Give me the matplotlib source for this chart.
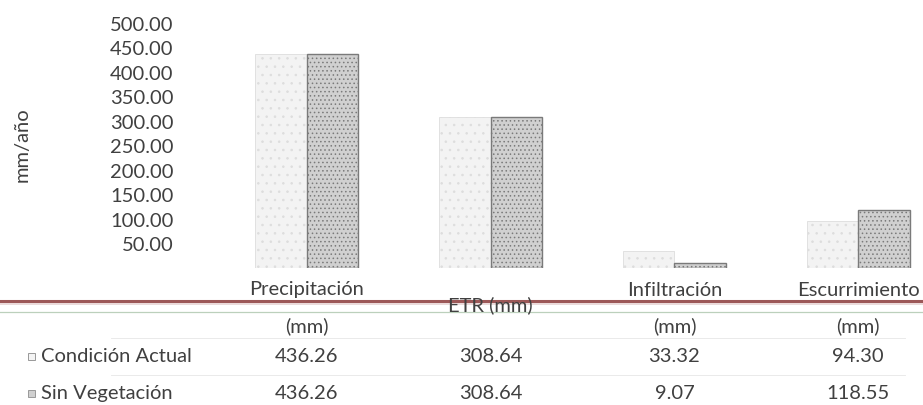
import numpy as np
import matplotlib
matplotlib.use('Agg')
import matplotlib.pyplot as plt
from matplotlib.patches import Rectangle
from matplotlib.lines import Line2D

categories = ['Precipitación\n(mm)', 'ETR (mm)', 'Infiltración\n(mm)', 'Escurrimiento\n(mm)']
series_names = ['Condición Actual', 'Sin Vegetación']
condicion_actual = [436.26, 308.64, 33.32, 94.30]
sin_vegetacion = [436.26, 308.64, 9.07, 118.55]
y_ticks = [50, 100, 150, 200, 250, 300, 350, 400, 450, 500]

plt.rcParams['font.family'] = ['Lato', 'DejaVu Sans']
plt.rcParams['hatch.linewidth'] = 0.6
TXT = '#404040'
FS = 14.5

W, H = 923, 406
fig = plt.figure(figsize=(W / 100, H / 100), dpi=100)

def fy(ypix):
    # reference pixel row -> figure fraction
    return 1 - ypix / H

# plot area in pixel coords of the reference
ax_left, ax_top, ax_bottom = 215, 24, 268.5
ax = fig.add_axes([ax_left / W, fy(ax_bottom), 1 - ax_left / W, (ax_bottom - ax_top) / H])

x = np.arange(len(categories))
bw = 0.28
ax.bar(x - bw / 2, condicion_actual, bw, color='#f3f3f3', edgecolor='#dddddd',
       hatch='..', linewidth=0.6)
ax.bar(x + bw / 2, sin_vegetacion, bw, color='#d0d0d0', edgecolor='#7a7a7a',
       hatch='....', linewidth=1.0)

ax.set_xlim(-0.5, (W - 307) / 183.7)
ax.set_ylim(0, 500)
ax.set_yticks(y_ticks)
ax.set_yticklabels([f'{v:.2f}' for v in y_ticks], fontsize=FS, color=TXT)
ax.tick_params(axis='y', length=0, pad=30)
ax.set_xticks([])
for s in ax.spines.values():
    s.set_visible(False)

fig.text(22 / W, fy(145), 'mm/año', rotation=90, ha='center', va='center',
         fontsize=FS, color=TXT)

# category labels under the bars
trans = ax.get_xaxis_transform()
for i, cat in enumerate(categories):
    xf = (307 + 183.7 * i) / W
    parts = cat.split('\n')
    if len(parts) == 2:
        fig.text(xf, fy(290), parts[0], ha='center', va='center', fontsize=FS, color=TXT)
        fig.text(xf, fy(326), parts[1], ha='center', va='center', fontsize=FS, color=TXT)
    else:
        fig.text(xf, fy(305), parts[0], ha='center', va='center', fontsize=FS, color=TXT)

# data table rows
row_y = [357, 394]
for r, (name, vals) in enumerate(zip(series_names, [condicion_actual, sin_vegetacion])):
    yy = fy(row_y[r])
    fig.text(41 / W, yy, name, ha='left', va='center', fontsize=FS, color=TXT)
    face = '#f4f4f4' if r == 0 else '#d0d0d0'
    fig.patches.append(Rectangle((28 / W, yy - 3.5 / H), 7 / W, 7 / H, transform=fig.transFigure,
                                 facecolor=face, edgecolor='#999999', linewidth=0.7))
    for i, v in enumerate(vals):
        xf = (307 + 183.7 * i) / W
        fig.text(xf, yy, f'{v:.2f}', ha='center', va='center', fontsize=FS, color=TXT)

# table rules
fig.add_artist(Line2D([0, 1], [fy(302), fy(302)], color='#9c5858', linewidth=2.2))
fig.add_artist(Line2D([0, 1], [fy(305), fy(305)], color='#e8d4d4', linewidth=1.2))
fig.add_artist(Line2D([0, 1], [fy(313), fy(313)], color='#bcd0bc', linewidth=0.9))
for yl in [339, 376]:
    fig.add_artist(Line2D([0.12, 0.98], [fy(yl), fy(yl)], color='#e6e6e6', linewidth=0.6))

fig.savefig('out.png', dpi=100)
